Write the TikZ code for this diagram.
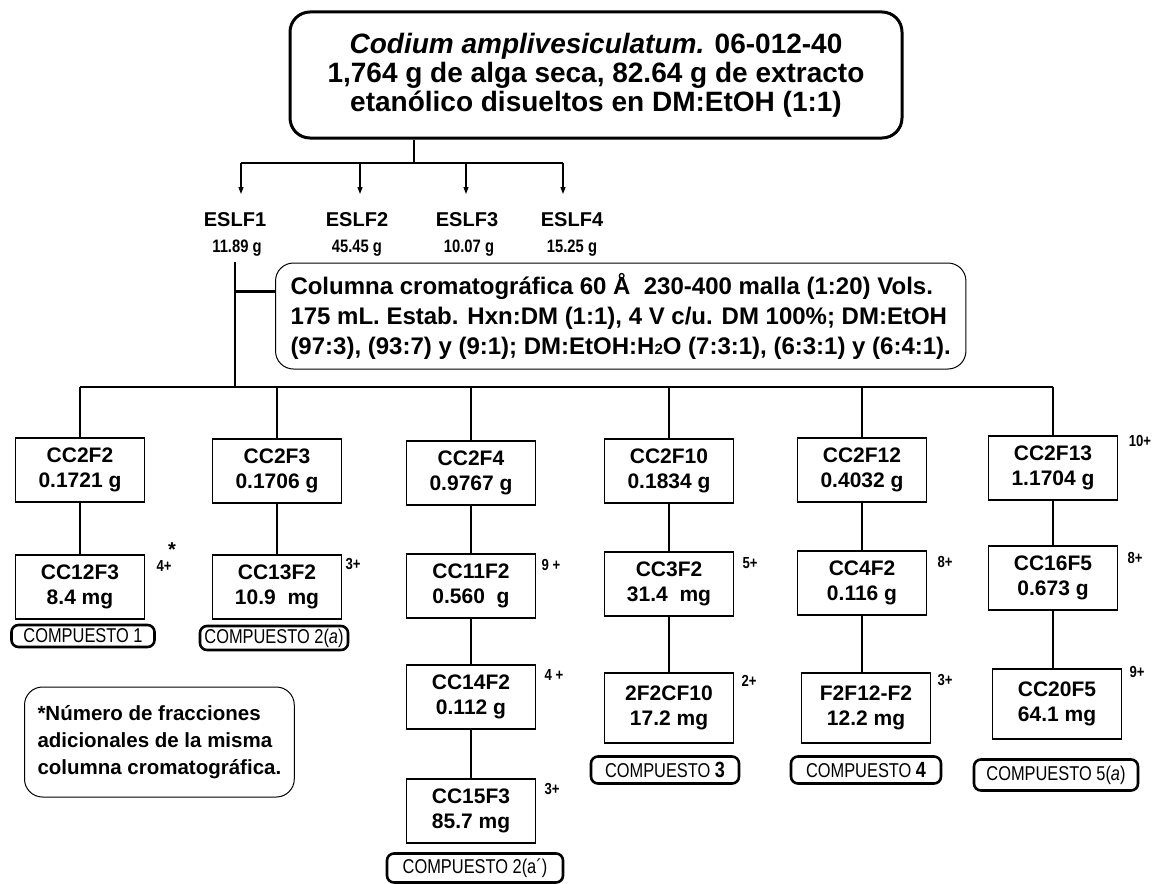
\documentclass[tikz,border=0pt]{standalone}
\usepackage{fontspec}
\setmainfont{Liberation Sans}
\newfontfamily\narrowf[FakeStretch=0.82]{Liberation Sans}
\usetikzlibrary{arrows.meta}
\newcommand\fsz[2]{\fontsize{#1}{#2}\selectfont}
\begin{document}
\begin{tikzpicture}[x=1pt,y=-1pt,
  frac/.style={draw, line width=1.1pt, minimum width=129pt, minimum height=64pt, inner sep=0pt, align=center, font=\bfseries\fsz{21}{25}},
  tall/.style={minimum height=70pt},
  comp/.style={draw, line width=2.6pt, rounded corners=7pt, inner sep=0pt, font=\narrowf\fsz{20}{20}},
  nplus/.style={font=\narrowf\bfseries\fsz{16}{16}, inner sep=0pt},
  eslf/.style={font=\bfseries\fsz{20}{20}, inner sep=0pt},
  mass/.style={font=\narrowf\bfseries\fsz{18}{18}, inner sep=0pt},
  conn/.style={line width=1.1pt},
  arr/.style={line width=1.1pt, -{Triangle[length=7pt,width=5pt]}},
]
\useasboundingbox[fill=white] (0,0) rectangle (1155,883);

% top box
\node[draw, line width=3pt, rounded corners=20pt, minimum width=612pt, minimum height=126pt,
      inner sep=0pt, align=center, font=\bfseries\fsz{28}{29}] (top) at (596,75)
  {\textit{Codium amplivesiculatum.} 06-012-40\\1,764 g de alga seca, 82.64 g de extracto\\etanólico disueltos en DM:EtOH (1:1)};

% ESLF fractions
\node[eslf] (e1) at (235,220) {ESLF1};
\node[eslf] (e2) at (357,220) {ESLF2};
\node[eslf] (e3) at (467,220) {ESLF3};
\node[eslf] (e4) at (572,220) {ESLF4};
\node[mass] (m1) at (237,248) {11.89 g};
\node[mass] (m2) at (357,248) {45.45 g};
\node[mass] (m3) at (469,248) {10.07 g};
\node[mass] (m4) at (572,248) {15.25 g};

\coordinate (j0) at (414,163);
\coordinate (a1) at (241,163);
\coordinate (a2) at (360,163);
\coordinate (a3) at (466,163);
\coordinate (a4) at (563,163);
\coordinate (t1) at (241,194);
\coordinate (t2) at (360,194);
\coordinate (t3) at (466,194);
\coordinate (t4) at (563,194);
\draw[conn] (j0 |- top.south) -- (j0);
\draw[conn] (a1) -- (a4);
\draw[arr] (a1) -- (t1);
\draw[arr] (a2) -- (t2);
\draw[arr] (a3) -- (t3);
\draw[arr] (a4) -- (t4);

% column box
\node[draw, line width=1pt, rounded corners=18pt, anchor=west, inner xsep=15pt, inner ysep=0pt,
      minimum height=106pt, align=left, font=\bfseries\fsz{24}{30}] (col) at (275,316)
  {Columna cromatográfica 60 Å\ \ 230-400 malla (1:20) Vols.\\
   175 mL. Estab. Hxn:DM (1:1), 4 V c/u. DM 100\%; DM:EtOH\\
   (97:3), (93:7) y (9:1); DM:EtOH:H{\fsz{15}{15}2}O (7:3:1), (6:3:1) y (6:4:1).};

\coordinate (v0) at (235,262);
\coordinate (b0) at (235,387);
\path (col.west) ++(0,-25) coordinate (cw);
\draw[line width=1.8pt] (v0) -- (b0);
\draw[line width=3pt] (cw -| b0) -- (cw);

% branch line
\coordinate (c1) at (80,387);
\coordinate (c2) at (277,387);
\coordinate (c3) at (471,387);
\coordinate (c4) at (669,387);
\coordinate (c5) at (862,387);
\coordinate (c6) at (1053,387);
\draw[conn] (c1) -- (c6);

% row 1
\node[frac] (f11) at (80,470)   {CC2F2\\0.1721 g};
\node[frac] (f21) at (277,471)  {CC2F3\\0.1706 g};
\node[frac] (f31) at (471,473)  {CC2F4\\0.9767 g};
\node[frac] (f41) at (669,471)  {CC2F10\\0.1834 g};
\node[frac] (f51) at (862,470)  {CC2F12\\0.4032 g};
\node[frac] (f61) at (1053,468) {CC2F13\\1.1704 g};

% row 2
\node[frac] (f12) at (80,587)   {CC12F3\\8.4 mg};
\node[frac] (f22) at (277,587)  {CC13F2\\10.9\ \ mg};
\node[frac] (f32) at (471,586)  {CC11F2\\0.560\ \ g};
\node[frac] (f42) at (669,584)  {CC3F2\\31.4\ \ mg};
\node[frac] (f52) at (862,583)  {CC4F2\\0.116 g};
\node[frac] (f62) at (1053,578) {CC16F5\\0.673 g};

% row 3
\node[frac] (f33) at (471,697)       {CC14F2\\0.112 g};
\node[frac,tall] (f43) at (669,708)  {2F2CF10\\17.2 mg};
\node[frac,tall] (f53) at (866,708)  {F2F12-F2\\12.2 mg};
\node[frac,tall] (f63) at (1057,704) {CC20F5\\64.1 mg};

% row 4
\node[frac] (f34) at (471,811) {CC15F3\\85.7 mg};

% connectors
\foreach \c/\n in {c1/f11,c2/f21,c3/f31,c4/f41,c5/f51,c6/f61}
  \draw[conn] (\c) -- (\n.north);
\foreach \a/\b in {f11/f12,f21/f22,f31/f32,f41/f42,f51/f52,f61/f62,f32/f33,f42/f43,f52/f53,f62/f63,f33/f34}
  \draw[conn] (\a.south) -- (\a.south |- \b.north);

% counts
\node[nplus] (n12) at (164,566) {4+};
\node[nplus, font=\bfseries\fsz{20}{20}] (ast) at (172,550) {*};
\node[nplus] (n22) at (353,564) {3+};
\node[nplus] (n32) at (551,565) {9 +};
\node[nplus] (n42) at (750,563) {5+};
\node[nplus] (n52) at (945,562) {8+};
\node[nplus] (n62) at (1135,558) {8+};
\node[nplus] (n61) at (1140,441) {10+};
\node[nplus] (n33) at (554,675) {4 +};
\node[nplus] (n43) at (749,681) {2+};
\node[nplus] (n53) at (945,680) {3+};
\node[nplus] (n63) at (1137,672) {9+};
\node[nplus] (n34) at (552,789) {3+};

% compounds
\node[comp, minimum width=143pt, minimum height=22pt] (k1) at (83,636) {COMPUESTO 1};
\node[comp, minimum width=148pt, minimum height=24pt] (k2) at (274,638) {COMPUESTO 2(\textit{a})};
\node[comp, minimum width=176pt, minimum height=29pt] (k2b) at (475,868) {COMPUESTO 2(a´)};
\node[comp, minimum width=148pt, minimum height=27pt] (k3) at (665,770) {COMPUESTO {\bfseries\fsz{22}{22}3}};
\node[comp, minimum width=150pt, minimum height=27pt] (k4) at (866,770) {COMPUESTO {\bfseries\fsz{22}{22}4}};
\node[comp, minimum width=164pt, minimum height=31pt] (k5) at (1056,775) {COMPUESTO 5(\textit{a})};

% footnote
\node[draw, line width=1pt, rounded corners=18pt, anchor=west, minimum height=110pt,
      inner xsep=13pt, inner ysep=0pt, align=left, font=\bfseries\fsz{20.5}{27}] (note) at (24,742)
  {*Número de fracciones\\ adicionales de la misma\\ columna cromatográfica.};
\end{tikzpicture}
\end{document}
